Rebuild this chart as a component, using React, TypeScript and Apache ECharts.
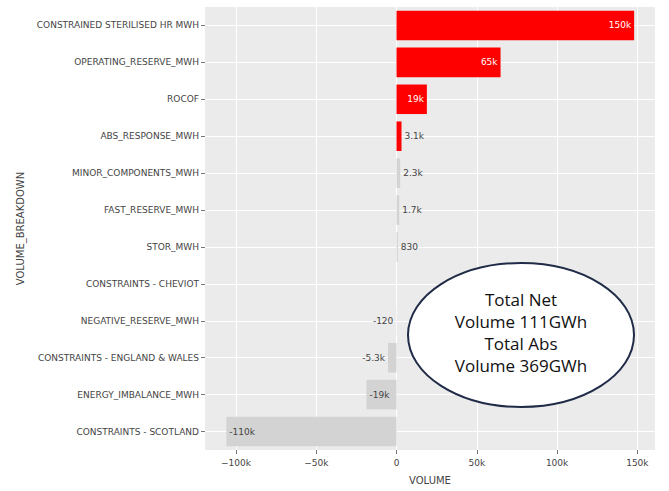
import React, { useEffect, useRef } from "react";
import * as echarts from "echarts";

const categories = [
  "CONSTRAINED STERILISED HR MWH",
  "OPERATING_RESERVE_MWH",
  "ROCOF",
  "ABS_RESPONSE_MWH",
  "MINOR_COMPONENTS_MWH",
  "FAST_RESERVE_MWH",
  "STOR_MWH",
  "CONSTRAINTS - CHEVIOT",
  "NEGATIVE_RESERVE_MWH",
  "CONSTRAINTS - ENGLAND & WALES",
  "ENERGY_IMBALANCE_MWH",
  "CONSTRAINTS - SCOTLAND",
];

const volumes: (number | null)[] = [
  148000, 64800, 18900, 3100, 2300, 1700, 830, null, -120, -5300, -18700, -106000,
];

const highlighted = ["CONSTRAINED STERILISED HR MWH", "OPERATING_RESERVE_MWH", "ROCOF", "ABS_RESPONSE_MWH"];

const xTicks = [-100000, -50000, 0, 50000, 100000, 150000];
const xMin = -119300;
const xMax = 161000;

const annotationLines = ["Total Net", "Volume 111GWh", "Total Abs", "Volume 369GWh"];

function si2(v: number): string {
  const a = Math.abs(v);
  const sign = v < 0 ? "-" : "";
  if (a >= 1000) return sign + Number((a / 1000).toPrecision(2)) + "k";
  return sign + Number(a.toPrecision(2));
}

function tickFmt(v: number): string {
  if (v === 0) return "0";
  return (v < 0 ? "\u2212" : "") + Math.abs(v) / 1000 + "k";
}

export default function App() {
  const ref = useRef<HTMLDivElement>(null);
  useEffect(() => {
    if (!ref.current) return;
    const chart = echarts.init(ref.current, undefined, { renderer: "svg" });
    const labelFont = "DejaVu Sans";
    const data = volumes.map((v, i) => {
      if (v === null) return { value: null };
      const hi = highlighted.includes(categories[i]);
      const big = Math.abs(v) >= 15000;
      let position = "right";
      if (v >= 0) position = big ? "insideRight" : "right";
      else position = big ? "insideLeft" : "left";
      return {
        value: v,
        itemStyle: { color: hi ? "#ff0000" : "#d3d3d3" },
        label: {
          show: true,
          position,
          distance: 3,
          color: big && hi ? "#ffffff" : "#444444",
          formatter: () => si2(v),
        },
      };
    });
    chart.setOption({
      animation: false,
      backgroundColor: "#ffffff",
      grid: {
        left: 205,
        right: 14,
        top: 7,
        bottom: 41,
        show: true,
        backgroundColor: "#ebebeb",
        borderWidth: 0,
      },
      xAxis: {
        type: "value",
        min: xMin,
        max: xMax,
        name: "VOLUME",
        nameLocation: "middle",
        nameGap: 25,
        nameTextStyle: { fontFamily: labelFont, fontSize: 10, color: "#444444" },
        axisLine: { show: false, onZero: false },
        axisTick: { show: true, length: 4, lineStyle: { color: "#777777" }, customValues: xTicks },
        axisLabel: {
          customValues: xTicks,
          formatter: tickFmt,
          fontFamily: labelFont,
          fontSize: 9,
          color: "#444444",
          margin: 8,
        },
        splitLine: { show: true, lineStyle: { color: "#ffffff", width: 1 } },
      },
      yAxis: {
        type: "category",
        data: categories,
        inverse: true,
        name: "VOLUME_BREAKDOWN",
        nameLocation: "middle",
        nameGap: 180,
        nameTextStyle: { fontFamily: labelFont, fontSize: 10, color: "#444444" },
        axisLine: { show: false, onZero: false },
        axisTick: { show: true, alignWithLabel: true, length: 4, lineStyle: { color: "#777777" } },
        axisLabel: { fontFamily: labelFont, fontSize: 9, color: "#444444", margin: 6 },
        splitLine: { show: true, alignWithLabel: true, lineStyle: { color: "#ffffff", width: 1 } },
      },
      series: [
        {
          type: "bar",
          data,
          barCategoryGap: "20%",
          label: { fontFamily: labelFont, fontSize: 9 },
        },
      ],
      graphic: [
        {
          type: "ellipse",
          shape: { cx: 521, cy: 335, rx: 113, ry: 72 },
          style: { fill: "#ffffff", stroke: "#1f2b47", lineWidth: 2 },
          z: 100,
        },
        {
          type: "text",
          x: 521,
          y: 332,
          z: 101,
          style: {
            text: annotationLines.join("\n"),
            fontFamily: "Open Sans",
            fontSize: 17,
            lineHeight: 22,
            fill: "#111111",
            align: "center",
            verticalAlign: "middle",
          },
        },
      ],
    });
    return () => chart.dispose();
  }, []);
  return (
    <div
      ref={ref}
      style={{ position: "absolute", left: 0, top: 0, width: 669, height: 491 }}
    />
  );
}
